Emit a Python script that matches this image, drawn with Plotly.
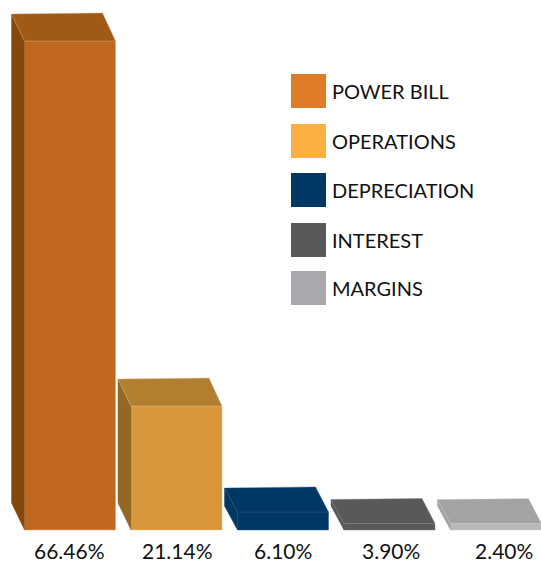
import plotly.graph_objects as go

# Data
categories = ["POWER BILL", "OPERATIONS", "DEPRECIATION", "INTEREST", "MARGINS"]
shares = [66.46, 21.14, 6.10, 3.90, 2.40]
# The reference bars are not drawn to scale: heights as drawn, in pixels
drawn_heights = [489, 124, 18, 6.5, 6.5]
depths = [27, 27, 24, 24, 24]

front_colors = ["#c1681f", "#d9973b", "#003764", "#58595b", "#b9b9ba"]
top_colors = ["#a05a18", "#b07f30", "#003764", "#58595b", "#a3a3a4"]
side_colors = ["#85470a", "#936822", "#003764", "#58595b", "#a3a3a4"]
edge_colors = ["#d9a577", "#e6bd85", "#2f5c85", "#7c7c7e", "#cfcfcf"]
legend_colors = ["#e27b28", "#fbb040", "#003764", "#58595b", "#a7a9ac"]

W, H = 541, 561
BASE_PX = 530
STEP = 106.5
FIRST = 70.0
BAR_W = 91 / STEP
DX = 13 / STEP
FONT = "Lato"
TEXT = "#111111"
label_shift = [-1, 1, 0, 1, 8]

fig = go.Figure()
idx = list(range(len(categories)))

fig.add_trace(go.Bar(
    x=idx, y=drawn_heights, width=BAR_W,
    marker=dict(color=front_colors, line=dict(color=edge_colors, width=0.5)),
    customdata=shares, showlegend=False, hoverinfo="skip",
))

for i, h in enumerate(drawn_heights):
    l, r = i - BAR_W / 2, i + BAR_W / 2
    d = depths[i]
    # side face
    fig.add_trace(go.Scatter(
        x=[l, l - DX, l - DX, l, l], y=[0, d, h + d, h, 0],
        mode="lines", fill="toself", fillcolor=side_colors[i],
        line=dict(color=side_colors[i], width=0.4),
        showlegend=False, hoverinfo="skip"))
    # top face
    fig.add_trace(go.Scatter(
        x=[l, r, r - DX, l - DX, l], y=[h, h, h + d + 1, h + d, h],
        mode="lines", fill="toself", fillcolor=top_colors[i],
        line=dict(color=edge_colors[i], width=0.4),
        showlegend=False, hoverinfo="skip"))

annotations = []
for i, s in enumerate(shares):
    annotations.append(dict(
        x=i, y=-20, xref="x", yref="y", xshift=label_shift[i],
        text=f"{s:.2f}%", showarrow=False, xanchor="center", yanchor="middle",
        height=20, borderpad=0, borderwidth=0,
        font=dict(family=FONT, size=21, color=TEXT)))

legend_tops = [74, 124, 173, 223, 271]
shapes = []
for name, col, top in zip(categories, legend_colors, legend_tops):
    shapes.append(dict(type="rect", xref="paper", yref="paper",
                       x0=291 / W, x1=326 / W, y0=1 - (top + 34) / H, y1=1 - top / H,
                       fillcolor=col, line=dict(width=0)))
    annotations.append(dict(
        x=333 / W, y=1 - (top + 17) / H, xref="paper", yref="paper", xshift=-3,
        text=name, showarrow=False, xanchor="left", yanchor="middle",
        font=dict(family=FONT, size=20, color=TEXT)))

fig.update_layout(
    width=W, height=H, margin=dict(l=0, r=0, t=0, b=0),
    paper_bgcolor="white", plot_bgcolor="white",
    showlegend=False, shapes=shapes, annotations=annotations,
    xaxis=dict(range=[-FIRST / STEP, (W - FIRST) / STEP], visible=False, fixedrange=True),
    yaxis=dict(range=[-(H - BASE_PX), BASE_PX], visible=False, fixedrange=True),
)

fig.write_html("out.html", config={"displayModeBar": False},
               post_script="document.body.style.margin='0';document.body.style.overflow='hidden';")
